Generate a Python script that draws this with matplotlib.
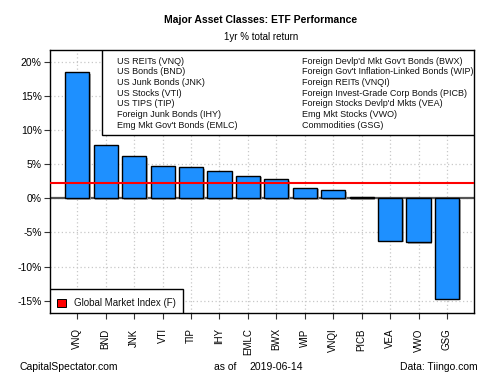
import matplotlib
matplotlib.use("Agg")
import matplotlib.pyplot as plt
import matplotlib.patheffects as pe
from matplotlib.patches import Rectangle
import numpy as np

plt.rcParams["font.family"] = ["Liberation Sans", "DejaVu Sans"]

tickers = ["VNQ", "BND", "JNK", "VTI", "TIP", "IHY", "EMLC",
           "BWX", "WIP", "VNQI", "PICB", "VEA", "VWO", "GSG"]
returns = [18.5, 7.75, 6.2, 4.75, 4.6, 4.0, 3.3,
           2.8, 1.55, 1.2, 0.15, -6.2, -6.45, -14.7]
names = ["US REITs (VNQ)", "US Bonds (BND)", "US Junk Bonds (JNK)",
         "US Stocks (VTI)", "US TIPS (TIP)", "Foreign Junk Bonds (IHY)",
         "Emg Mkt Gov't Bonds (EMLC)",
         "Foreign Devlp'd Mkt Gov't Bonds (BWX)",
         "Foreign Gov't Inflation-Linked Bonds (WIP)",
         "Foreign REITs (VNQI)", "Foreign Invest-Grade Corp Bonds (PICB)",
         "Foreign Stocks Devlp'd Mkts (VEA)", "Emg Mkt Stocks (VWO)",
         "Commodities (GSG)"]
gmi = 2.3
yticks = [20, 15, 10, 5, 0, -5, -10, -15]

fig = plt.figure(figsize=(5, 3.75), dpi=100)
ax = fig.add_axes([0.1, 0.1653, 0.848, 0.7027])

x = np.arange(len(tickers))
ax.set_axisbelow(True)
ax.grid(True, color="#c8c8c8", linestyle=(0, (1, 2)), linewidth=0.9)
ax.axhline(0, color="#555555", linewidth=1.6, zorder=1)
bars = ax.bar(x, returns, width=0.85, color="#1e90ff", edgecolor="black",
              linewidth=1.0, zorder=2)
for b in bars:
    b.set_path_effects([pe.SimplePatchShadow(offset=(1.2, -1.2),
                                             shadow_rgbFace="#999999",
                                             alpha=0.8),
                        pe.Normal()])
ax.axhline(gmi, color="red", linewidth=1.5, zorder=3)

ax.set_xlim(-0.96, len(tickers) - 0.05)
ax.set_ylim(-16.8, 21.8)
ax.set_xticks(x)
ax.set_xticklabels(tickers, rotation=90, fontsize=7)
ax.set_yticks(yticks)
ax.set_yticklabels([f"{v}%" for v in yticks], fontsize=7.5)
ax.tick_params(length=4, width=0.8, color="#333333", pad=2)
ax.tick_params(axis="x", pad=7)
for s in ax.spines.values():
    s.set_linewidth(1.0)

# top legend box
ax.add_patch(Rectangle((0.1226, 0.6755), 0.8774, 0.3245, transform=ax.transAxes,
                       facecolor="white", edgecolor="black", linewidth=1.0,
                       zorder=5))
for i, nm in enumerate(names):
    col = i // 7
    row = i % 7
    ax.text(0.158 if col == 0 else 0.5936, 0.956 - row * 0.0406, nm,
            transform=ax.transAxes, fontsize=6.5, va="center", ha="left",
            color="#111111", zorder=6)

# bottom legend box
ax.add_patch(Rectangle((0, 0), 0.313, 0.09, transform=ax.transAxes,
                       facecolor="white", edgecolor="black", linewidth=1.0,
                       zorder=5))
ax.add_patch(Rectangle((0.0165, 0.024), 0.021, 0.03, transform=ax.transAxes,
                       facecolor="red", edgecolor="black", linewidth=0.7,
                       zorder=6))
ax.text(0.0566, 0.038, "Global Market Index (F)", transform=ax.transAxes,
        fontsize=7, va="center", ha="left", color="#111111", zorder=6)

fig.text(0.522, 0.947, "Major Asset Classes: ETF Performance",
         fontsize=7.5, fontweight="bold", ha="center", va="center")
fig.text(0.522, 0.901, "1yr % total return", fontsize=7, ha="center",
         va="center")
fig.text(0.04, 0.022, "CapitalSpectator.com", fontsize=7.5, ha="left",
         va="center")
fig.text(0.428, 0.022, "as of", fontsize=7.5, ha="left", va="center")
fig.text(0.498, 0.022, "2019-06-14", fontsize=7.5, ha="left", va="center")
fig.text(0.956, 0.022, "Data: Tiingo.com", fontsize=7.5, ha="right",
         va="center")

fig.savefig("out.png", dpi=100)
